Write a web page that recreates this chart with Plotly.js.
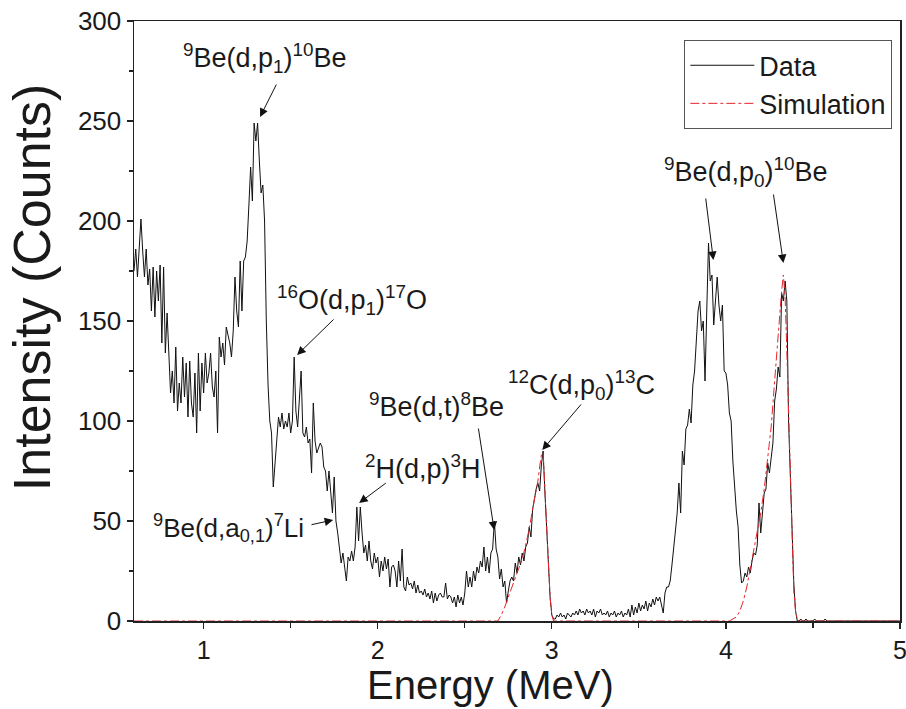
<!DOCTYPE html>
<html>
<head>
<meta charset="utf-8">
<script src="https://cdn.plot.ly/plotly-3.0.1.min.js"></script>
<style>html,body{margin:0;padding:0;background:#fff;}#chart{width:906px;height:709px;}</style>
</head>
<body>
<div id="chart"></div>
<script>
// Spectrum: channel energies start at 0.60 MeV, 0.01 MeV per channel
const energyStart = 0.60;
const energyStep = 0.01;
const dataCounts = [
175,186,172,190,201,185,172,186,168,176,
155,177,152,175,160,178,139,177,134,154,
136,114,125,109,137,105,119,109,132,112,
129,102,130,109,102,124,94,134,105,129,
114,134,119,124,134,117,112,125,94,142,
132,139,128,147,143,139,132,145,172,155,
147,180,155,180,182,190,208,227,210,249,
240,249,230,214,218,200,150,118,100,94,
67,80,94,102,97,104,96,100,97,104,
94,100,132,105,97,112,125,94,92,97,
89,91,74,109,90,84,87,89,87,77,
75,65,75,62,54,72,50,44,35,29,
34,27,20,32,30,35,30,37,57,40,
57,44,34,38,30,40,30,26,34,29,
32,22,30,25,32,26,31,17,27,28,
25,17,30,20,36,17,15,22,18,19,
16,20,14,18,14,15,13,16,12,14,
11,15,9,14,10,13,14,12,12,19,
11,13,12,9,12,7,13,9,12,8,
14,25,17,22,17,25,20,27,24,30,
27,37,25,32,24,34,36,50,36,32,
21,26,17,20,9,15,20,22,20,29,
24,32,28,34,30,37,39,47,42,56,
62,66,69,65,78,85,65,45,28,12,
3,1,1,3,2,4,2,3,1,4,
3,2,4,3,5,3,6,4,5,3,
6,4,5,3,6,2,5,4,6,3,
4,3,5,2,4,3,5,2,4,3,
5,2,4,3,6,2,8,3,7,4,
9,5,8,6,10,5,9,7,11,8,
12,10,12,8,4,14,17,17,20,28,
35,45,54,69,54,85,78,96,98,106,
99,118,125,140,155,160,145,150,120,155,
189,170,173,148,160,172,158,150,158,125,
124,118,104,100,80,65,55,47,28,19,
20,24,22,27,24,30,34,33,38,59,
44,54,64,66,79,74,82,89,110,116,
127,122,164,160,170,160,100,74,39,19,
5,0,0,1,0,0,1,0,0,0,
0,1,0,0,0,0,0,1,0,0,
0,0,0,0,0,0,0,0,0,0,
0,0,0,0,0,0,0,0,0,0,
0,0,0,0,0,0,0,0,0,0,
0,0,0,0,0,0,0,0,0,0,0
];
const dataEnergy = dataCounts.map((_, i) => +(energyStart + i * energyStep).toFixed(2));

const simEnergy = [0.60,
 2.69,2.71,2.73,2.75,2.77,2.79,2.81,2.83,2.85,2.87,2.89,2.91,
 2.92,2.93,2.94,2.95,2.96,2.97,2.98,2.99,3.00,3.01,
 4.02,4.04,4.06,4.08,4.10,4.12,4.14,4.16,4.18,4.20,4.22,4.24,4.26,4.28,4.30,
 4.31,4.32,4.33,4.34,4.35,4.36,4.37,4.38,4.39,4.40,4.41,4.42,
 5.00];
const simCounts = [0,
 0,3,7,12,17,22,26,31,38,46,56,65,
 70,77,83,84,66,46,28,12,3,0,
 0,1,2,5,10,17,26,35,44,54,66,80,97,120,145,
 155,165,173,162,135,105,70,38,15,5,1,0,
 0];

const xTickVals = [1, 2, 3, 4, 5];
const yTickVals = [0, 50, 100, 150, 200, 250, 300];

const peakLabels = [
  {text: '<sup>9</sup>Be(d,p<sub>1</sub>)<sup>10</sup>Be', lx: 1.353, ly: 281.5, size: 27},
  {text: '<sup>16</sup>O(d,p<sub>1</sub>)<sup>17</sup>O', lx: 1.853, ly: 160.5, size: 27},
  {text: '<sup>2</sup>H(d,p)<sup>3</sup>H', lx: 2.261, ly: 77, size: 27},
  {text: '<sup>9</sup>Be(d,a<sub>0,1</sub>)<sup>7</sup>Li', lx: 1.140, ly: 46.5, size: 26},
  {text: '<sup>9</sup>Be(d,t)<sup>8</sup>Be', lx: 2.336, ly: 108, size: 27},
  {text: '<sup>12</sup>C(d,p<sub>0</sub>)<sup>13</sup>C', lx: 3.169, ly: 118, size: 27},
  {text: '<sup>9</sup>Be(d,p<sub>0</sub>)<sup>10</sup>Be', lx: 4.117, ly: 224.5, size: 27}
];
const peakArrows = [
  {tx: 1.422, ty: 269, hx: 1.324, hy: 252},
  {tx: 1.755, ty: 151.5, hx: 1.537, hy: 133},
  {tx: 2.055, ty: 69.5, hx: 1.893, hy: 59},
  {tx: 1.611, ty: 48, hx: 1.744, hy: 50.5},
  {tx: 2.577, ty: 97, hx: 2.669, hy: 45.5},
  {tx: 3.175, ty: 109, hx: 2.945, hy: 85.5},
  {tx: 3.883, ty: 212, hx: 3.928, hy: 180.5},
  {tx: 4.272, ty: 214, hx: 4.330, hy: 179}
];

const FONT = 'Liberation Sans, Arial, Helvetica, sans-serif';
const TXT = '#1a1a1a';

const traces = [
  {x: dataEnergy, y: dataCounts, type: 'scatter', mode: 'lines', name: 'Data',
   line: {color: '#111', width: 1}},
  {x: simEnergy, y: simCounts, type: 'scatter', mode: 'lines', name: 'Simulation',
   line: {color: '#e8262b', width: 1, dash: 'dashdot'}}
];

const annotations = [];
peakLabels.forEach(p => annotations.push({
  x: p.lx, y: p.ly, xref: 'x', yref: 'y', text: p.text, showarrow: false,
  xanchor: 'center', yanchor: 'middle', font: {family: FONT, size: p.size, color: TXT}
}));
peakArrows.forEach(a => annotations.push({
  x: a.hx, y: a.hy, ax: a.tx, ay: a.ty, xref: 'x', yref: 'y', axref: 'x', ayref: 'y',
  text: '', showarrow: true, arrowhead: 2, arrowsize: 1.7, arrowwidth: 1, arrowcolor: '#111'
}));
annotations.push({
  xref: 'paper', yref: 'paper', x: 0.466, y: -0.106, text: 'Energy (MeV)', showarrow: false,
  xanchor: 'center', yanchor: 'middle', borderpad: 0, font: {family: FONT, size: 40, color: TXT}
});
annotations.push({
  xref: 'paper', yref: 'paper', x: -0.134, y: 0.557, text: 'Intensity (Counts)', showarrow: false,
  textangle: -90, xanchor: 'center', yanchor: 'middle', borderpad: 0, font: {family: FONT, size: 52, color: TXT}
});

const layout = {
  width: 906, height: 709,
  margin: {l: 134, r: 6, t: 21, b: 88},
  paper_bgcolor: '#fff', plot_bgcolor: '#fff',
  font: {family: FONT, color: TXT},
  showlegend: true,
  legend: {x: 0.99, y: 0.968, xanchor: 'right', yanchor: 'top',
    bordercolor: '#555', borderwidth: 1, bgcolor: '#fff',
    font: {family: FONT, size: 27, color: TXT}, itemwidth: 64, tracegroupgap: 0},
  xaxis: {range: [0.6, 5], tickvals: xTickVals, ticks: 'outside', ticklen: 6, tickwidth: 1.2,
    tickcolor: '#222', showline: true, linecolor: '#222', linewidth: 1.5, mirror: true,
    showgrid: false, zeroline: false, ticklabeloverflow: 'allow',
    tickfont: {family: FONT, size: 25, color: TXT},
    minor: {dtick: 0.5, ticks: 'outside', ticklen: 5, tickcolor: '#222', showgrid: false}},
  yaxis: {range: [0, 300], tickvals: yTickVals, ticks: 'outside', ticklen: 6, tickwidth: 1.2,
    tickcolor: '#222', showline: true, linecolor: '#222', linewidth: 1.5, mirror: true,
    showgrid: false, zeroline: false,
    tickfont: {family: FONT, size: 26, color: TXT},
    minor: {dtick: 25, ticks: 'outside', ticklen: 4, tickcolor: '#222', showgrid: false}},
  xaxis2: {overlaying: 'x', side: 'top', anchor: 'y', range: [0.6, 5], dtick: 0.5, tick0: 0,
    ticks: 'inside', ticklen: 4, tickcolor: '#222', showticklabels: false, showgrid: false,
    zeroline: false, showline: false},
  yaxis2: {overlaying: 'y', side: 'right', anchor: 'x', range: [0, 300], dtick: 25, tick0: 0,
    ticks: 'inside', ticklen: 4, tickcolor: '#222', showticklabels: false, showgrid: false,
    zeroline: false, showline: false},
  annotations: annotations
};

Plotly.newPlot('chart', traces, layout, {displayModeBar: false, staticPlot: true});
</script>
</body>
</html>
